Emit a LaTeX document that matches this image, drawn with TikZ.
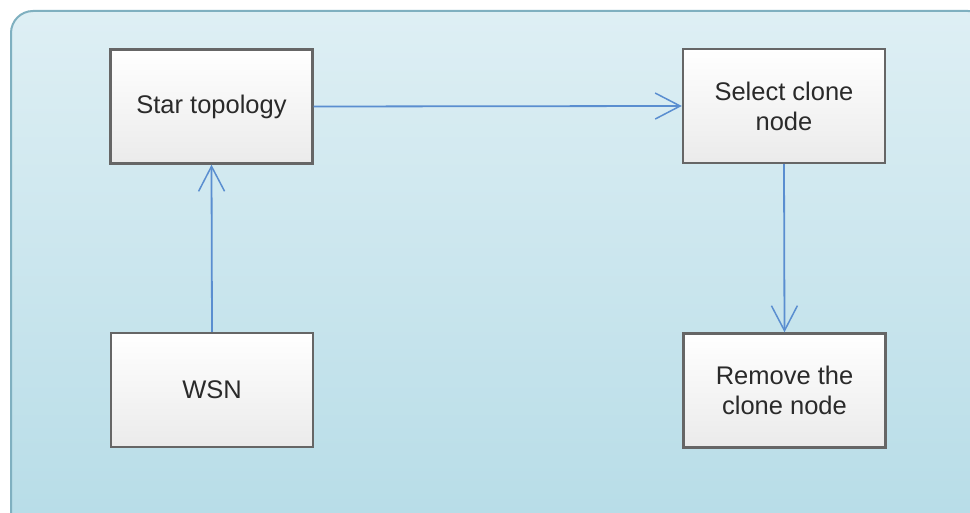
\documentclass[tikz,border=0pt]{standalone}
\usepackage{fontspec}
\setmainfont{Liberation Sans}
\usetikzlibrary{arrows.meta,shadows}
\definecolor{bgtop}{HTML}{DEEFF4}
\definecolor{bgbot}{HTML}{B6DCE7}
\definecolor{bgline}{HTML}{7FB0C0}
\definecolor{boxline}{HTML}{666666}
\definecolor{arrowc}{HTML}{5A8ED0}
\definecolor{txt}{HTML}{2A2A2A}
\begin{document}
\begin{tikzpicture}[x=1pt,y=-1pt,
  stepbox/.style={draw=boxline, line width=2.4pt, top color=white, bottom color=black!8,
    minimum width=202pt, minimum height=114pt, inner sep=0pt, align=center,
    font=\fontsize{25.5}{30}\selectfont, text=txt,
    drop shadow={shadow xshift=1pt, shadow yshift=-1pt, opacity=0.25}},
  conn/.style={draw=arrowc, line width=1.8pt, -{Straight Barb[length=25pt,width=26pt,line width=1.5pt]}}]
\useasboundingbox (0,0) rectangle (970,513);
\fill[white] (0,0) rectangle (970,513);
\shade[top color=bgtop, bottom color=bgbot, draw=bgline, line width=2pt, rounded corners=22pt]
  (11,540) -- (11,11) -- (990,11) -- (990,540) -- cycle;
\node[stepbox] (star) at (211.5,106.5) {Star topology};
\node[stepbox] (sel) at (784,106) {Select clone\\node};
\node[stepbox] (wsn) at (212,390) {WSN};
\node[stepbox] (rem) at (784.5,390.5) {Remove the\\clone node};
\draw[conn] (wsn.north) -- (star.south);
\draw[conn] (star.east) -- (sel.west);
\draw[conn] (sel.south) -- (rem.north);
\end{tikzpicture}
\end{document}
